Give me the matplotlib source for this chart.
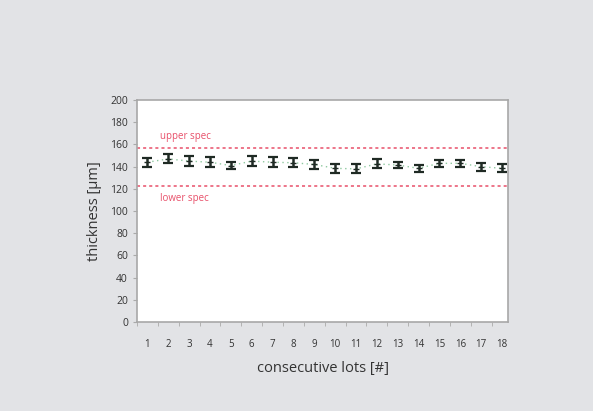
import matplotlib.pyplot as plt
import numpy as np

# data
lots = list(range(1, 19))
thickness = [144, 147, 145, 144, 141, 145, 144, 143.5, 142, 138.5, 138, 142.5, 141.5, 138.5, 143, 143, 140, 138.5]
errors = [4, 4, 4.5, 4.5, 3.5, 4.5, 4.5, 4, 4, 4, 4, 4, 3, 3, 3, 3, 3.5, 3.5]
upper_spec = 157
lower_spec = 123
yticks = list(range(0, 201, 20))

plt.rcParams['font.family'] = ['Open Sans', 'DejaVu Sans']

fig = plt.figure(figsize=(5.93, 4.11), dpi=100)
fig.patch.set_facecolor('#e2e3e6')
ax = fig.add_axes([0.231, 0.2165, 0.626, 0.540])
ax.set_facecolor('white')

# spec limits
ax.axhline(upper_spec, color='#e8506a', linestyle=(0, (2, 2)), linewidth=1.1)
ax.axhline(lower_spec, color='#e8506a', linestyle=(0, (2, 2)), linewidth=1.1)
ax.text(1.6, upper_spec + 5, 'upper spec', color='#e8506a', fontsize=7, va='bottom')
ax.text(1.6, lower_spec - 7, 'lower spec', color='#e8506a', fontsize=7, va='top')

# measurements
ax.plot(lots, thickness, color='#8fc9a0', linestyle=(0, (1, 2.5)), linewidth=1)
ax.errorbar(lots, thickness, yerr=errors, fmt='_', color='#1f2a24', markersize=5,
            capsize=3.5, elinewidth=1.8, capthick=1.6, zorder=3)

ax.set_xlim(0.5, 18.3)
ax.set_ylim(0, 200)
ax.set_xticks(lots)
ax.set_yticks(yticks)
ax.set_xticks(np.arange(0.5, 18.5, 1), minor=True)
ax.tick_params(axis='x', which='major', length=0, labelsize=7, pad=12, colors='#333333')
ax.tick_params(axis='x', which='minor', length=3, color='#aaaaaa')
ax.tick_params(axis='y', length=3, labelsize=7.5, color='#aaaaaa', labelcolor='#333333')
for s in ax.spines.values():
    s.set_color('#a8a8a8')
    s.set_linewidth(1.2)

ax.set_ylabel('thickness [µm]', fontsize=10.5, color='#333333', labelpad=6)
ax.set_xlabel('consecutive lots [#]', fontsize=10.5, color='#333333', labelpad=8)

fig.savefig('out.png', dpi=100, facecolor=fig.get_facecolor())
